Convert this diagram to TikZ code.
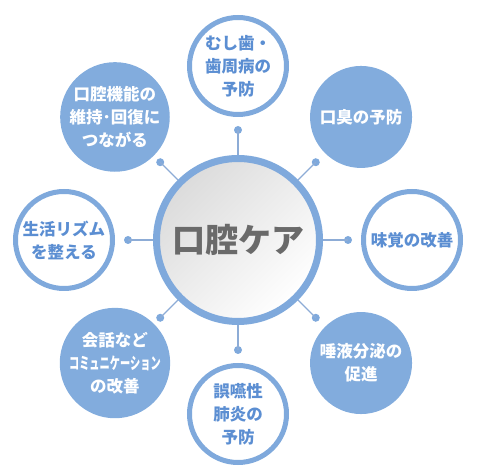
\documentclass[tikz,border=0pt]{standalone}
\usepackage{fontspec}
\setmainfont{Noto Sans CJK JP}
\definecolor{ringblue}{HTML}{7FA9DC}
\definecolor{fillblue}{HTML}{82ACDD}
\definecolor{textblue}{HTML}{5B8ED2}
\definecolor{linkblue}{HTML}{8DACD6}
\definecolor{centergray}{HTML}{6A6A6A}
\tikzset{
  satwhite/.style={circle, minimum size=97pt, inner sep=0pt, draw=ringblue, line width=5pt, fill=white,
    text=textblue, align=center, font=\bfseries\fontsize{16.5}{23}\selectfont},
  satfill/.style={circle, minimum size=102pt, inner sep=0pt, fill=fillblue,
    text=white, align=center, font=\bfseries\fontsize{16.5}{23}\selectfont},
  dotnode/.style={circle, minimum size=8pt, inner sep=0pt, fill=ringblue},
  link/.style={draw=linkblue, line width=1.3pt}
}
\begin{document}
\begin{tikzpicture}[x=1pt,y=1pt]
\useasboundingbox (0,0) rectangle (477,471);
\coordinate (o) at (238,231);
% satellites
\node[satwhite] (s1) at ([shift={(90:174)}]o) {むし歯・\\歯周病の\\予防};
\node[satfill]  (s2) at ([shift={(45:174)}]o) {口臭の予防};
\node[satwhite] (s3) at ([shift={(0:174)}]o) {味覚の改善};
\node[satfill]  (s4) at ([shift={(-45:174)}]o) {唾液分泌の\\促進};
\node[satwhite] (s5) at ([shift={(-90:174)}]o) {誤嚥性\\肺炎の\\予防};
\node[satfill]  (s6) at ([shift={(-135:174)}]o) {会話など\\\scalebox{0.62}[1]{コミュニケーション}\\の改善};
\node[satwhite] (s7) at ([shift={(180:174)}]o) {生活リズム\\を整える};
\node[satfill]  (s8) at ([shift={(135:174)}]o) {口腔機能の\\維持･回復に\\つながる};
% dots and connectors
\foreach \i/\a in {1/90,2/45,3/0,4/-45,5/-90,6/-135,7/180,8/135}{
  \node[dotnode] (d\i) at ([shift={(\a:110)}]o) {};
  \draw[link] (o) -- (d\i.center);
}
% center
\node[circle, minimum size=163pt, inner sep=0pt, draw=ringblue, line width=7pt,
  top color=black!14, bottom color=white, shading angle=45,
  text=centergray, font=\bfseries\fontsize{33}{36}\selectfont] (c) at (o) {口腔ケア};
\end{tikzpicture}
\end{document}
